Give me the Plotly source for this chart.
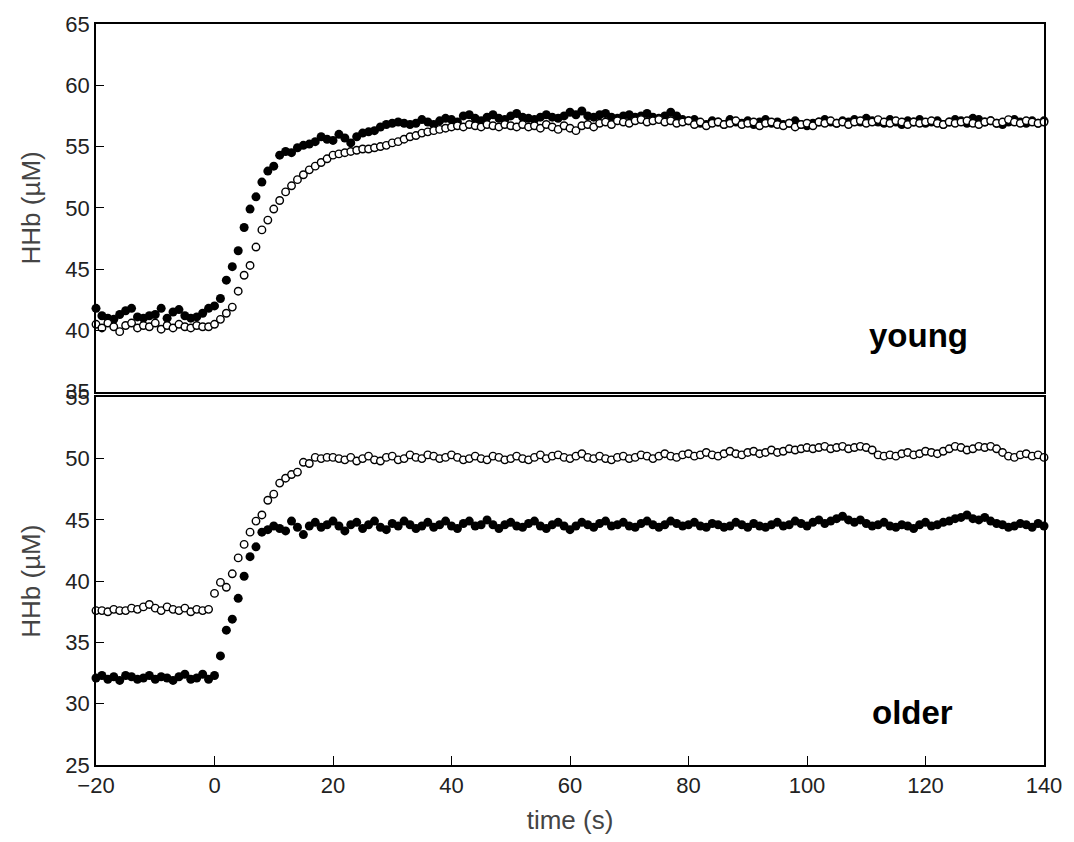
import plotly.graph_objects as go

# time axis (s), one sample per second
time_s = list(range(-20, 141))

# young, filled symbols
young_filled = [
    41.8, 41.2, 41.0, 40.9, 41.3, 41.6, 41.8, 41.1, 41.0, 41.2,
    41.3, 41.8, 41.0, 41.5, 41.7, 41.2, 41.0, 41.1, 41.4, 41.8,
    42.0, 42.6, 44.1, 45.2, 46.5, 48.4, 49.9, 50.9, 52.1, 53.0,
    53.4, 54.3, 54.6, 54.5, 54.9, 55.1, 55.2, 55.4, 55.8, 55.6,
    55.5, 56.0, 55.7, 55.3, 55.8, 56.1, 56.2, 56.3, 56.6, 56.8,
    56.9, 57.0, 56.9, 56.8, 56.9, 57.2, 57.0, 56.8, 57.1, 57.3,
    57.2, 57.0, 57.5, 57.6, 57.3, 57.1, 57.4, 57.6, 57.3, 57.2,
    57.5, 57.7, 57.4, 57.3, 57.2, 57.4, 57.6, 57.4, 57.3, 57.5,
    57.8, 57.6, 57.9, 57.5, 57.4, 57.6, 57.7, 57.4, 57.3, 57.5,
    57.6, 57.4, 57.5, 57.7, 57.4, 57.3, 57.5, 57.8, 57.5, 57.2,
    57.1, 57.2, 56.9, 56.8, 57.1, 57.0, 56.8, 57.2, 57.0, 56.9,
    57.1, 56.8, 57.0, 57.2, 56.9, 57.0, 56.8, 56.9, 57.1, 56.8,
    56.7, 56.9, 57.0, 57.2, 57.0, 56.9, 57.1, 57.0, 57.2, 57.0,
    57.3, 57.1, 57.0, 56.9, 57.2, 57.0, 56.8, 57.1, 57.0, 57.2,
    56.9, 57.0, 57.1, 56.8, 57.0, 57.2, 57.1, 56.9, 57.3, 57.2,
    57.0, 57.1, 56.9, 56.8, 57.0, 57.2, 57.0, 56.9, 57.1, 56.9,
    57.1,
]

# young, open symbols
young_open = [
    40.5, 40.2, 40.6, 40.3, 39.9, 40.4, 40.6, 40.2, 40.4, 40.3,
    40.6, 40.1, 40.4, 40.2, 40.5, 40.3, 40.2, 40.4, 40.3, 40.3,
    40.5, 40.9, 41.4, 41.9, 43.2, 44.5, 45.3, 46.8, 48.2, 49.0,
    49.9, 50.6, 51.3, 51.8, 52.3, 52.7, 53.1, 53.4, 53.7, 54.0,
    54.3, 54.4, 54.5, 54.6, 54.7, 54.8, 54.8, 54.9, 55.0, 55.1,
    55.3, 55.4, 55.6, 55.8, 55.9, 56.1, 56.2, 56.3, 56.4, 56.5,
    56.6, 56.7, 56.6, 56.8, 56.7, 56.6, 56.8, 56.7, 56.6, 56.8,
    56.7, 56.6, 56.8, 56.6, 56.7, 56.5, 56.8, 56.6, 56.4, 56.7,
    56.5, 56.3, 56.7, 56.8, 56.6, 56.9, 57.0, 56.8, 57.1, 57.0,
    56.9, 57.1, 57.2, 57.0, 57.1, 57.2, 57.0, 57.1, 56.9, 57.0,
    57.1, 56.8, 57.0, 56.7, 56.9, 57.0, 56.8, 56.9, 57.1, 56.8,
    56.9, 57.0, 56.7, 56.9, 57.0, 56.8, 56.7, 56.9, 56.6, 56.8,
    56.9, 56.7, 57.0, 56.9, 57.1, 56.9, 57.0, 56.8, 57.0, 57.1,
    56.9, 57.0, 57.2, 57.0, 56.9, 57.1, 57.0, 56.8, 57.0, 56.9,
    57.0, 57.1, 56.9, 56.8, 57.0, 56.9, 57.0, 57.1, 56.9, 56.8,
    57.0, 57.1, 56.9, 57.0, 57.2, 57.0, 56.9, 57.1, 57.0, 56.9,
    57.0,
]

# older, open symbols
older_open = [
    37.6, 37.6, 37.5, 37.7, 37.6, 37.6, 37.8, 37.7, 37.9, 38.1,
    37.8, 37.6, 37.9, 37.7, 37.6, 37.8, 37.5, 37.7, 37.6, 37.7,
    39.0, 39.9, 39.5, 40.6, 41.9, 43.0, 44.0, 44.9, 45.4, 46.6,
    47.1, 48.0, 48.4, 48.7, 48.9, 49.7, 49.6, 50.1, 50.0, 50.1,
    50.1, 50.0, 49.9, 50.1, 49.8, 50.0, 50.2, 49.9, 49.8, 50.1,
    50.2, 49.9, 50.0, 50.3, 50.1, 50.0, 50.3, 50.2, 50.0, 50.1,
    50.3, 50.1, 49.9, 50.0, 50.2, 50.0, 49.9, 50.2, 50.1, 49.9,
    50.0, 50.2, 50.0, 49.9, 50.1, 50.3, 50.0, 50.2, 50.3, 50.1,
    50.0, 50.2, 50.4, 50.1, 50.0, 50.2, 50.0, 49.9, 50.1, 50.2,
    50.0, 50.1, 50.3, 50.2, 50.0, 50.2, 50.4, 50.2, 50.1, 50.3,
    50.4, 50.2, 50.3, 50.5, 50.3, 50.2, 50.4, 50.6, 50.4, 50.3,
    50.5, 50.6, 50.4, 50.5, 50.7, 50.5, 50.6, 50.8, 50.7, 50.8,
    50.9, 50.8, 50.9, 51.0, 50.8, 50.9, 51.0, 50.8, 50.9, 51.0,
    50.9, 50.7, 50.3, 50.2, 50.3, 50.2, 50.4, 50.5, 50.3, 50.4,
    50.6, 50.5, 50.4, 50.6, 50.8, 51.0, 50.9, 50.7, 50.8, 51.0,
    50.9, 51.0, 50.8, 50.5, 50.2, 50.1, 50.3, 50.4, 50.2, 50.3,
    50.1,
]

# older, filled symbols
older_filled = [
    32.1, 32.3, 32.0, 32.2, 31.9, 32.3, 32.2, 32.0, 32.1, 32.3,
    32.0, 32.2, 32.1, 31.9, 32.2, 32.4, 32.0, 32.1, 32.4, 32.0,
    32.3, 33.9, 36.0, 36.9, 38.6, 40.4, 42.0, 42.8, 44.0, 44.2,
    44.5, 44.3, 44.1, 44.9, 44.4, 43.8, 44.5, 44.8, 44.4, 44.6,
    44.9, 44.5, 44.1, 44.6, 44.8, 44.3, 44.6, 44.9, 44.4, 44.2,
    44.7, 44.5, 44.9, 44.6, 44.3, 44.5, 44.8, 44.4, 44.6, 44.9,
    44.5, 44.3, 44.7, 44.9, 44.5, 44.6, 45.0, 44.6, 44.3, 44.6,
    44.8, 44.5, 44.4, 44.7, 44.9, 44.5, 44.3, 44.6, 44.8, 44.5,
    44.2, 44.5, 44.8, 44.6, 44.4, 44.7, 44.9, 44.5, 44.6, 44.8,
    44.5, 44.4, 44.7, 44.9, 44.6, 44.4, 44.6, 44.9, 44.7, 44.5,
    44.6, 44.8, 44.5, 44.4, 44.7, 44.6, 44.4, 44.5, 44.8, 44.6,
    44.4, 44.7, 44.5, 44.4, 44.6, 44.8, 44.5, 44.6, 44.9, 44.7,
    44.5, 44.8, 45.0, 44.7, 44.9, 45.1, 45.3, 45.0, 44.8, 45.0,
    44.7, 44.5, 44.6, 44.8, 44.5, 44.4, 44.6, 44.5, 44.3, 44.6,
    44.8, 44.5, 44.6, 44.8, 44.9, 45.1, 45.2, 45.4, 45.1, 45.0,
    45.2, 44.9, 44.7, 44.6, 44.4, 44.5, 44.7, 44.6, 44.4, 44.7,
    44.5,
]

y_ticks_top = [35, 40, 45, 50, 55, 60, 65]
y_ticks_bottom = [25, 30, 35, 40, 45, 50, 55]
x_ticks = [-20, 0, 20, 40, 60, 80, 100, 120, 140]

FONT = "Liberation Sans, Arial, sans-serif"

def filled(x, y, xa, ya):
    return go.Scatter(x=x, y=y, xaxis=xa, yaxis=ya, mode="markers",
                      marker=dict(size=9, color="black", line=dict(width=0)),
                      cliponaxis=False, showlegend=False)

def opened(x, y, xa, ya):
    return go.Scatter(x=x, y=y, xaxis=xa, yaxis=ya, mode="markers",
                      marker=dict(size=7.5, color="white", line=dict(width=1.4, color="black")),
                      cliponaxis=False, showlegend=False)

fig = go.Figure()
fig.add_trace(filled(time_s, young_filled, "x2", "y2"))
fig.add_trace(opened(time_s, young_open, "x2", "y2"))
fig.add_trace(filled(time_s, older_filled, "x", "y"))
fig.add_trace(opened(time_s, older_open, "x", "y"))

axis_common = dict(showline=True, linecolor="black", linewidth=1.5, mirror=True,
                   showgrid=False, zeroline=False,
                   tickfont=dict(family=FONT, size=22, color="#222"))
title_font = dict(family=FONT, size=26, color="#444")

fig.update_layout(
    width=1074, height=842,
    margin=dict(l=96, r=26, t=20, b=76),
    paper_bgcolor="white", plot_bgcolor="white",
    xaxis=dict(axis_common, range=[-20, 140], tickvals=x_ticks, ticks="inside",
               ticklen=9, tickcolor="black", tickwidth=1.2, anchor="y",
               title=dict(text="time (s)", font=title_font, standoff=14)),
    yaxis=dict(axis_common, domain=[0, 0.4962], range=[25, 55], tickvals=y_ticks_bottom,
               ticks="inside", ticklen=8, tickcolor="black", tickwidth=1.2, anchor="x",
               title=dict(text="HHb (µM)", font=title_font, standoff=17)),
    xaxis2=dict(axis_common, range=[-20, 140], anchor="y2", showticklabels=False, ticks=""),
    yaxis2=dict(axis_common, domain=[0.5038, 1], range=[35, 65], tickvals=y_ticks_top,
                ticks="inside", ticklen=8, tickcolor="black", tickwidth=1.2, anchor="x2",
                title=dict(text="HHb (µM)", font=title_font, standoff=17)),
    annotations=[
        dict(text="<b>young</b>", x=118.8, y=39.6, xref="x2", yref="y2", showarrow=False,
             font=dict(family=FONT, size=33, color="black"), xanchor="center", yanchor="middle"),
        dict(text="<b>older</b>", x=117.8, y=29.3, xref="x", yref="y", showarrow=False,
             font=dict(family=FONT, size=33, color="black"), xanchor="center", yanchor="middle"),
    ],
)

fig.write_html("out.html")
